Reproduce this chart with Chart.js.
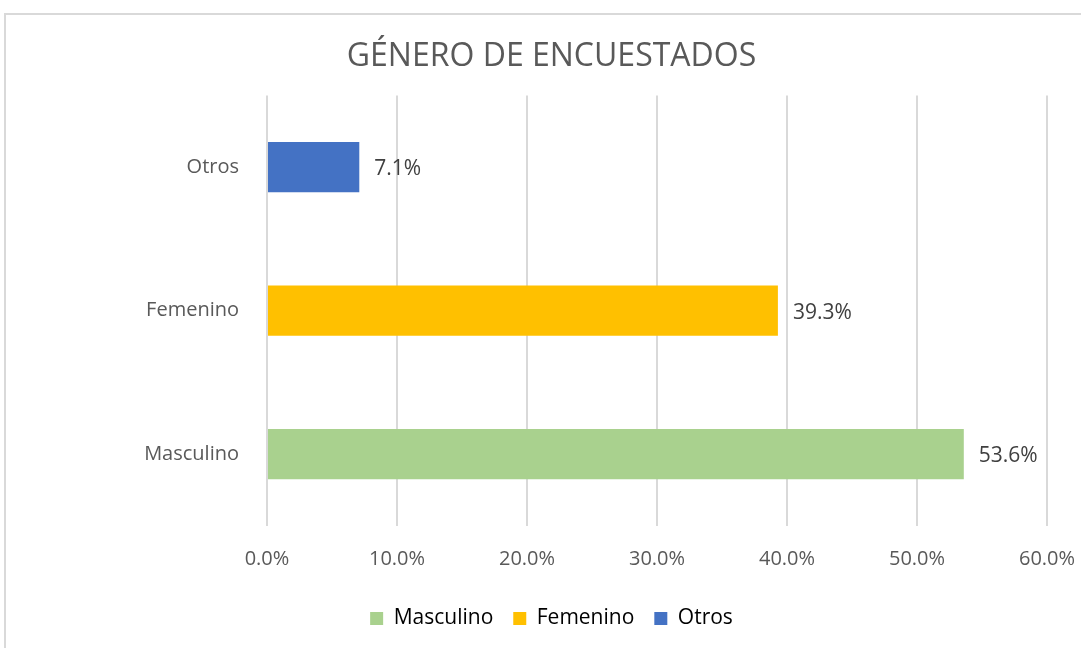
<!DOCTYPE html>
<html>
<head>
<meta charset="utf-8">
<script src="https://cdn.jsdelivr.net/npm/chart.js@4/dist/chart.umd.min.js"></script>
<style>
  body { margin: 0; background: #fff; overflow: hidden; }
  #frame { position: absolute; left: 4px; top: 13px; width: 1100px; height: 660px; border: 2px solid #d9d9d9; box-sizing: border-box; }
  #wrap { position: absolute; left: 0; top: 0; width: 1081px; height: 648px; }
</style>
</head>
<body>
<div id="frame"></div>
<div id="wrap"><canvas id="myChart" width="1081" height="648"></canvas></div>
<script>
'use strict';

var categories = ['Masculino', 'Femenino', 'Otros'];
var values = [53.6, 39.3, 7.1];
var colors = ['#A9D18E', '#FFC000', '#4472C4'];
var xTicks = [0, 10, 20, 30, 40, 50, 60];

var fontName = '"Open Sans", Lato, sans-serif';
var textColor = '#595959';

// labels next to each bar
var valueLabels = {
    id: 'valueLabels',
    afterDatasetsDraw: function (chart) {
        var ctx = chart.ctx;
        var meta = chart.getDatasetMeta(0);
        ctx.save();
        ctx.font = '21px ' + fontName;
        ctx.fillStyle = '#404040';
        ctx.textBaseline = 'middle';
        ctx.textAlign = 'left';
        meta.data.forEach(function (bar, i) {
            ctx.fillText(values[i].toFixed(1) + '%', bar.x + 15, bar.y + 2);
        });
        ctx.restore();
    }
};

var ctx = document.getElementById('myChart').getContext('2d');
var chart = new Chart(ctx, {
    type: 'bar',
    data: {
        labels: categories,
        datasets: [{
            data: values,
            backgroundColor: colors,
            borderWidth: 0,
            barPercentage: 0.35,
            categoryPercentage: 1
        }]
    },
    options: {
        indexAxis: 'y',
        responsive: false,
        animation: false,
        layout: { padding: { top: 38, right: 0, left: 22, bottom: 9 } },
        scales: {
            x: {
                min: 0,
                max: 60,
                afterBuildTicks: function (scale) {
                    scale.ticks = xTicks.map(function (v) { return { value: v }; });
                },
                grid: { color: '#d9d9d9', lineWidth: 2, drawTicks: false },
                border: { display: false },
                ticks: {
                    color: textColor,
                    font: { family: fontName, size: 20 },
                    padding: 21,
                    callback: function (v) { return v.toFixed(1) + '%'; }
                },
                afterFit: function (scale) {
                    scale.height = 62;
                    scale.paddingRight = 34;
                }
            },
            y: {
                reverse: true,
                grid: { display: false },
                border: { display: false },
                ticks: {
                    color: textColor,
                    font: { family: fontName, size: 20 },
                    padding: 20
                },
                afterFit: function (scale) { scale.width = 245; }
            }
        },
        plugins: {
            title: {
                display: true,
                text: 'GÉNERO DE ENCUESTADOS',
                color: textColor,
                font: { family: fontName, size: 32, weight: 'normal' },
                padding: { top: 0, bottom: 19 }
            },
            legend: {
                position: 'bottom',
                labels: {
                    color: textColor,
                    font: { family: fontName, size: 21 },
                    boxWidth: 13,
                    boxHeight: 13,
                    padding: 20,
                    generateLabels: function () {
                        return categories.map(function (c, i) {
                            return { text: c, fillStyle: colors[i], strokeStyle: colors[i], lineWidth: 0, index: i };
                        });
                    }
                }
            },
            tooltip: { enabled: false }
        }
    },
    plugins: [valueLabels]
});
</script>
</body>
</html>
